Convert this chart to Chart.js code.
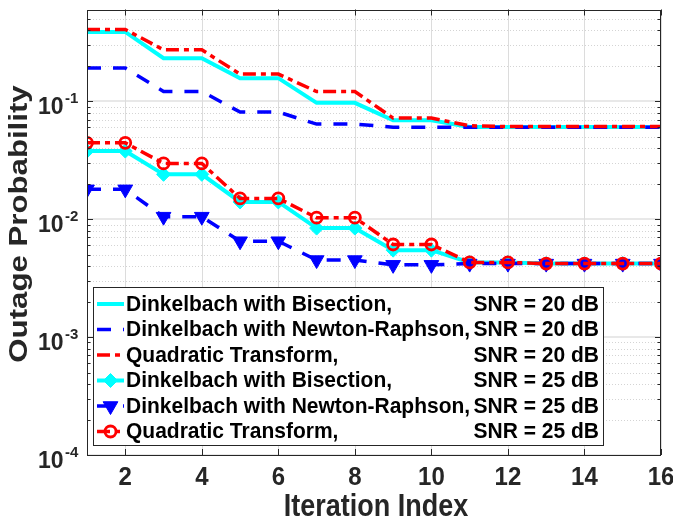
<!DOCTYPE html>
<html>
<head>
<meta charset="utf-8">
<script src="https://cdn.jsdelivr.net/npm/chart.js@4.4.1/dist/chart.umd.min.js"></script>
<style>
  html, body { margin: 0; padding: 0; background: #fff; }
  canvas { display: block; }
</style>
</head>
<body>
<canvas id="outage" width="673" height="523"></canvas>
<script>
// Outage probability per iteration, two SNR settings, three solvers
const iterations = [1, 2, 3, 4, 5, 6, 7, 8, 9, 10, 11, 12, 13, 14, 15, 16];

const bisection20 = [0.387, 0.387, 0.232, 0.232, 0.157, 0.157, 0.097, 0.097, 0.069, 0.069, 0.0605, 0.0605, 0.0605, 0.0605, 0.0605, 0.0605];
const newton20    = [0.191, 0.191, 0.121, 0.121, 0.081, 0.081, 0.064, 0.064, 0.0603, 0.0603, 0.0603, 0.0603, 0.0603, 0.0603, 0.0603, 0.0603];
const quadratic20 = [0.406, 0.406, 0.273, 0.273, 0.170, 0.170, 0.121, 0.121, 0.072, 0.072, 0.062, 0.061, 0.061, 0.061, 0.061, 0.061];

const bisection25 = [0.0378, 0.0378, 0.024, 0.024, 0.0140, 0.0140, 0.0084, 0.0084, 0.00546, 0.00546, 0.0043, 0.0043, 0.0042, 0.0042, 0.0042, 0.0042];
const newton25    = [0.0179, 0.0179, 0.0105, 0.0105, 0.0065, 0.0065, 0.0045, 0.0045, 0.0041, 0.0041, 0.0042, 0.0042, 0.0042, 0.0042, 0.0042, 0.0042];
const quadratic25 = [0.0444, 0.0444, 0.0297, 0.0297, 0.0150, 0.0150, 0.0103, 0.0103, 0.0061, 0.0061, 0.0043, 0.0043, 0.0042, 0.0042, 0.0042, 0.0042];

const xTicks = [2, 4, 6, 8, 10, 12, 14, 16];
const yDecades = [-4, -3, -2, -1];
const yMin = 1e-4;
const yMax = 0.6;

const FONT = '"Liberation Sans", Arial, Helvetica, sans-serif';
const INK = '#262626';

// minor log ticks 2..9 x 10^k inside the axis range
const yMajorTicks = yDecades.map(k => Math.pow(10, k));
const yMinorTicks = [];
yMajorTicks.forEach(base => {
  for (let m = 2; m <= 9; m++) {
    if (m * base <= yMax) yMinorTicks.push(m * base);
  }
});

function series(values) {
  return iterations.map((x, i) => ({ x, y: values[i] }));
}

const datasets = [
  {
    label: 'Dinkelbach with Bisection, SNR = 20 dB',
    data: series(bisection20),
    borderColor: '#00ffff', borderWidth: 4, pointRadius: 0
  },
  {
    label: 'Dinkelbach with Newton-Raphson, SNR = 20 dB',
    data: series(newton20),
    borderColor: '#0000ff', borderWidth: 3.5, borderDash: [14, 12], pointRadius: 0
  },
  {
    label: 'Quadratic Transform, SNR = 20 dB',
    data: series(quadratic20),
    borderColor: '#ff0000', borderWidth: 3.5, borderDash: [13, 5, 5, 5], pointRadius: 0
  },
  {
    label: 'Dinkelbach with Bisection, SNR = 25 dB',
    data: series(bisection25),
    borderColor: '#00ffff', borderWidth: 4,
    pointStyle: 'rectRot', pointRadius: 7, pointBackgroundColor: '#00ffff',
    pointBorderColor: '#00ffff', pointBorderWidth: 1
  },
  {
    label: 'Dinkelbach with Newton-Raphson, SNR = 25 dB',
    data: series(newton25),
    borderColor: '#0000ff', borderWidth: 3.5, borderDash: [14, 12],
    pointStyle: 'triangle', pointRotation: 180, pointRadius: 8.5,
    pointBackgroundColor: '#0000ff', pointBorderColor: '#0000ff', pointBorderWidth: 1
  },
  {
    label: 'Quadratic Transform, SNR = 25 dB',
    data: series(quadratic25),
    borderColor: '#ff0000', borderWidth: 3.5, borderDash: [13, 5, 5, 5],
    pointStyle: 'circle', pointRadius: 5.5, pointBackgroundColor: 'rgba(255,255,255,0)',
    pointBorderColor: '#ff0000', pointBorderWidth: 2.8
  }
];
// later series sit on top
datasets.forEach((d, i) => {
  d.order = datasets.length - i;
  d.tension = 0;
  d.fill = false;
});

function seg(ctx, x1, y1, x2, y2) {
  ctx.beginPath();
  ctx.moveTo(x1, y1);
  ctx.lineTo(x2, y2);
  ctx.stroke();
}

function stretchedText(ctx, text, x, y, sx, sy, angle) {
  ctx.save();
  ctx.translate(x, y);
  if (angle) ctx.rotate(angle);
  ctx.scale(sx, sy);
  ctx.fillText(text, 0, 0);
  ctx.restore();
}

// grid, box, ticks and labels in a MATLAB-like style
const frame = {
  id: 'frame',
  beforeDatasetsDraw(chart) {
    const { ctx, chartArea: a, scales: { x, y } } = chart;
    ctx.save();
    ctx.lineWidth = 1;
    ctx.strokeStyle = '#d4d4d4';
    ctx.setLineDash([1, 2]);
    yMinorTicks.forEach(v => {
      const py = Math.round(y.getPixelForValue(v)) + 0.5;
      seg(ctx, a.left, py, a.right, py);
    });
    ctx.setLineDash([]);
    ctx.strokeStyle = '#e0e0e0';
    ctx.lineWidth = 1.5;
    yMajorTicks.forEach(v => {
      const py = Math.round(y.getPixelForValue(v));
      seg(ctx, a.left, py, a.right, py);
    });
    ctx.lineWidth = 1;
    ctx.strokeStyle = '#dcdcdc';
    xTicks.forEach(v => {
      const px = Math.round(x.getPixelForValue(v)) + 0.5;
      seg(ctx, px, a.top, px, a.bottom);
    });
    ctx.restore();
  },
  afterDatasetsDraw(chart) {
    const { ctx, chartArea: a, scales: { x, y } } = chart;
    ctx.save();
    ctx.strokeStyle = INK;
    ctx.lineWidth = 1;
    ctx.strokeRect(Math.round(a.left) + 0.5, Math.round(a.top) + 0.5,
      Math.round(a.right - a.left) - 1, Math.round(a.bottom - a.top) - 1);

    xTicks.forEach(v => {
      const px = Math.round(x.getPixelForValue(v)) + 0.5;
      seg(ctx, px, a.bottom, px, a.bottom - 6);
      seg(ctx, px, a.top, px, a.top + 6);
    });
    yMajorTicks.forEach(v => {
      const py = Math.round(y.getPixelForValue(v)) + 0.5;
      seg(ctx, a.left, py, a.left + 6, py);
      seg(ctx, a.right, py, a.right - 6, py);
    });
    yMinorTicks.forEach(v => {
      const py = Math.round(y.getPixelForValue(v)) + 0.5;
      seg(ctx, a.left, py, a.left + 3.5, py);
      seg(ctx, a.right, py, a.right - 3.5, py);
    });

    // tick labels
    ctx.fillStyle = INK;
    ctx.textBaseline = 'alphabetic';
    ctx.font = `bold 24px ${FONT}`;
    ctx.textAlign = 'center';
    xTicks.forEach(v => {
      stretchedText(ctx, String(v), x.getPixelForValue(v), a.bottom + 30, 1, 1.05);
    });
    yDecades.forEach(k => {
      const py = y.getPixelForValue(Math.pow(10, k));
      ctx.font = `bold 23px ${FONT}`;
      ctx.textAlign = 'right';
      stretchedText(ctx, '10', 63.5, py + 12.5, 1, 1.05);
      ctx.font = `bold 15px ${FONT}`;
      ctx.textAlign = 'left';
      ctx.fillText('-' + Math.abs(k), 65, py + 1.5);
    });

    // axis titles
    ctx.font = `bold 27px ${FONT}`;
    ctx.textAlign = 'center';
    stretchedText(ctx, 'Iteration Index', (a.left + a.right) / 2 + 2, 516, 1, 1.15);
    ctx.font = `bold 26px ${FONT}`;
    stretchedText(ctx, 'Outage Probability', 27, 224, 1.2, 1, -Math.PI / 2);

    this.drawLegend(chart);
    ctx.restore();
  },
  drawLegend(chart) {
    const ctx = chart.ctx;
    const box = { left: 93.5, top: 287.5, width: 510, height: 158 };
    ctx.save();
    ctx.fillStyle = '#ffffff';
    ctx.fillRect(box.left, box.top, box.width, box.height);
    ctx.strokeStyle = INK;
    ctx.lineWidth = 1;
    ctx.strokeRect(box.left, box.top, box.width, box.height);

    chart.data.datasets.forEach((d, i) => {
      const cy = 304 + i * 25.5;
      ctx.save();
      ctx.strokeStyle = d.borderColor;
      ctx.lineWidth = d.borderWidth;
      ctx.setLineDash(d.borderDash || []);
      seg(ctx, 97, cy, 124, cy);
      ctx.restore();
      if (d.pointRadius) {
        ctx.save();
        ctx.fillStyle = d.pointBackgroundColor;
        ctx.strokeStyle = d.pointBorderColor;
        ctx.lineWidth = d.pointBorderWidth;
        Chart.helpers.drawPoint(ctx, {
          pointStyle: d.pointStyle,
          rotation: d.pointRotation || 0,
          radius: d.pointRadius,
          borderWidth: d.pointBorderWidth
        }, 110.5, cy);
        ctx.restore();
      }
      const cut = d.label.indexOf(', ') + 1;
      ctx.fillStyle = '#000000';
      ctx.font = `bold 21px ${FONT}`;
      ctx.textBaseline = 'middle';
      ctx.textAlign = 'left';
      stretchedText(ctx, d.label.slice(0, cut), 126, cy + 1, 1, 1.03);
      ctx.textAlign = 'right';
      stretchedText(ctx, d.label.slice(cut + 1), 599, cy + 1, 1, 1.03);
    });
    ctx.restore();
  }
};

new Chart(document.getElementById('outage'), {
  type: 'line',
  data: { datasets },
  options: {
    responsive: false,
    animation: false,
    layout: { padding: { top: 9, right: 12, left: 0, bottom: 0 } },
    scales: {
      x: {
        type: 'linear', min: 1, max: 16,
        ticks: { display: false },
        grid: { display: false },
        border: { display: false },
        afterFit: s => { s.height = 68; }
      },
      y: {
        type: 'logarithmic', min: yMin, max: yMax,
        ticks: { display: false },
        grid: { display: false },
        border: { display: false },
        afterFit: s => { s.width = 87; }
      }
    },
    plugins: {
      legend: { display: false },
      tooltip: { enabled: false }
    }
  },
  plugins: [frame]
});
</script>
</body>
</html>
